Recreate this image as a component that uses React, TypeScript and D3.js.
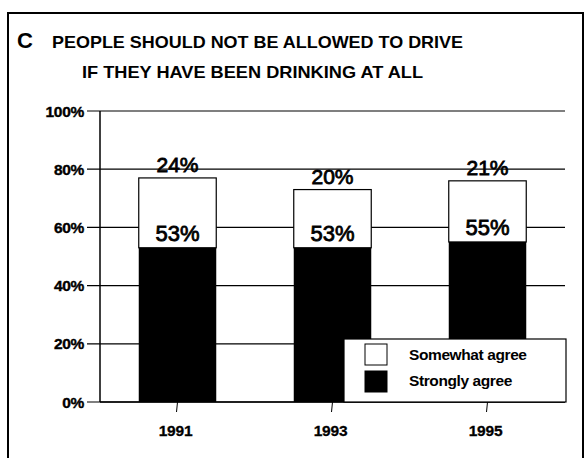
// App.tsx
import React, { useEffect, useRef } from "react";
import * as d3 from "d3";

const years = ["1991", "1993", "1995"];
const stronglyAgree = [53, 53, 55];
const somewhatAgree = [24, 20, 21];
const yTicks = [0, 20, 40, 60, 80, 100];
const titleLines = ["PEOPLE SHOULD NOT BE ALLOWED TO DRIVE", "IF THEY HAVE BEEN DRINKING AT ALL"];
const panelLetter = "C";
const legendLabels = ["Somewhat agree", "Strongly agree"];

const FONT = "'Liberation Sans', Arial, sans-serif";

const App: React.FC = () => {
    const svgRef = useRef<SVGSVGElement | null>(null);

    useEffect(() => {
        if (!svgRef.current) return;
        const width = 587;
        const height = 458;
        const svg = d3.select(svgRef.current);
        svg.selectAll("*").remove();
        svg.attr("viewBox", `0 0 ${width} ${height}`);

        svg.append("rect").attr("width", width).attr("height", height).attr("fill", "#fff");

        // outer frame (bottom edge runs off the page)
        svg
            .append("path")
            .attr("d", `M8,470 L8,13 L583,13 L583,470`)
            .attr("fill", "none")
            .attr("stroke", "#000")
            .attr("stroke-width", 2);

        // panel letter + title
        svg
            .append("text")
            .attr("x", 17)
            .attr("y", 48)
            .attr("font-family", FONT)
            .attr("font-weight", "bold")
            .attr("font-size", 22)
            .text(panelLetter);

        const titleY = [48, 78];
        const titleW = [411, 341];
        titleLines.forEach((line, i) => {
            svg
                .append("text")
                .attr("x", i === 0 ? 257.5 : 252.5)
                .attr("y", titleY[i])
                .attr("text-anchor", "middle")
                .attr("font-family", FONT)
                .attr("font-weight", "bold")
                .attr("font-size", 16.5)
                .attr("textLength", titleW[i])
                .attr("lengthAdjust", "spacingAndGlyphs")
                .text(line);
        });

        const margin = { left: 100, right: 22, top: 111, bottom: 56 };
        const innerW = width - margin.left - margin.right;
        const innerH = height - margin.top - margin.bottom;

        const x = d3.scaleBand<string>().domain(years).range([0, innerW]).paddingInner(0.5).paddingOuter(0.25);
        const y = d3.scaleLinear().domain([0, 100]).range([innerH, 0]);

        const g = svg.append("g").attr("transform", `translate(${margin.left},${margin.top})`);

        // gridlines + y ticks
        yTicks.forEach((t) => {
            g.append("line")
                .attr("x1", -13)
                .attr("x2", innerW)
                .attr("y1", y(t))
                .attr("y2", y(t))
                .attr("stroke", "#000")
                .attr("stroke-width", 1.2);
            g.append("text")
                .attr("x", -16)
                .attr("y", y(t) + 5.5)
                .attr("text-anchor", "end")
                .attr("font-family", FONT)
                .attr("font-weight", "bold")
                .attr("font-size", 15.5)
                .attr("stroke", "#000")
                .attr("stroke-width", 0.4)
                .attr("letter-spacing", -0.3)
                .text(`${t}%`);
        });

        // y axis line
        g.append("line")
            .attr("x1", 0)
            .attr("x2", 0)
            .attr("y1", 0)
            .attr("y2", innerH)
            .attr("stroke", "#000")
            .attr("stroke-width", 1.5);

        // bars
        years.forEach((yr, i) => {
            const bx = x(yr) ?? 0;
            const bw = x.bandwidth();
            const strong = stronglyAgree[i];
            const total = strong + somewhatAgree[i];

            g.append("rect")
                .attr("x", bx)
                .attr("y", y(total))
                .attr("width", bw)
                .attr("height", y(strong) - y(total))
                .attr("fill", "#fff")
                .attr("stroke", "#000")
                .attr("stroke-width", 1.2);
            g.append("rect")
                .attr("x", bx)
                .attr("y", y(strong))
                .attr("width", bw)
                .attr("height", innerH - y(strong))
                .attr("fill", "#000");

            g.append("text")
                .attr("x", bx + bw / 2)
                .attr("y", y(strong) - 7)
                .attr("text-anchor", "middle")
                .attr("font-family", FONT)
                .attr("font-size", 22)
                .attr("stroke", "#000")
                .attr("stroke-width", 0.8)
                .text(`${strong}%`);
            g.append("text")
                .attr("x", bx + bw / 2)
                .attr("y", y(total) - 6)
                .attr("text-anchor", "middle")
                .attr("font-family", FONT)
                .attr("font-size", 21)
                .attr("stroke", "#000")
                .attr("stroke-width", 0.8)
                .text(`${somewhatAgree[i]}%`);

            // x tick + label
            g.append("line")
                .attr("x1", bx + bw / 2)
                .attr("x2", bx + bw / 2 - 1)
                .attr("y1", innerH)
                .attr("y2", innerH + 10)
                .attr("stroke", "#000");
            g.append("text")
                .attr("x", bx + bw / 2 - 2)
                .attr("y", innerH + 34)
                .attr("text-anchor", "middle")
                .attr("font-family", FONT)
                .attr("font-weight", "bold")
                .attr("font-size", 15.5)
                .attr("stroke", "#000")
                .attr("stroke-width", 0.3)
                .attr("letter-spacing", -0.2)
                .text(yr);
        });

        // x axis line
        g.append("line")
            .attr("x1", 0)
            .attr("x2", innerW)
            .attr("y1", innerH)
            .attr("y2", innerH)
            .attr("stroke", "#000")
            .attr("stroke-width", 1.5);

        // legend
        const lg = svg.append("g").attr("transform", "translate(344,339)");
        lg.append("rect")
            .attr("width", 222)
            .attr("height", 63)
            .attr("fill", "#fff")
            .attr("stroke", "#000")
            .attr("stroke-width", 1.2);
        legendLabels.forEach((lab, i) => {
            lg.append("rect")
                .attr("x", 21)
                .attr("y", 5 + i * 27)
                .attr("width", 22)
                .attr("height", 21)
                .attr("fill", i === 0 ? "#fff" : "#000")
                .attr("stroke", "#000")
                .attr("stroke-width", 1);
            lg.append("text")
                .attr("x", 65)
                .attr("y", 21 + i * 26)
                .attr("font-family", FONT)
                .attr("font-weight", "bold")
                .attr("font-size", 15.5)
                .attr("letter-spacing", -0.4)
                .text(lab);
        });
    }, []);

    return (
        <svg
            ref={svgRef}
            width={587}
            height={458}
            style={{ position: "absolute", left: 0, top: 0, display: "block" }}
        />
    );
};

export default App;
